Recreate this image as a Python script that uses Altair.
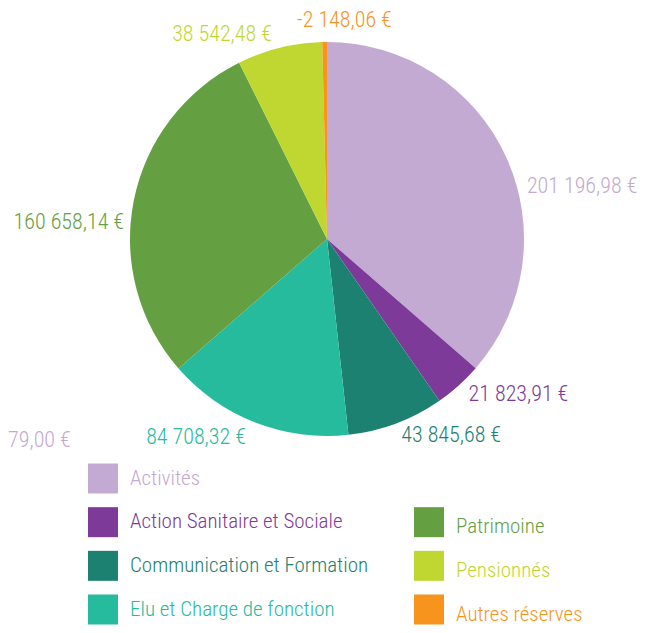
import altair as alt
import pandas as pd

categories = ["Activités", "Action Sanitaire et Sociale", "Communication et Formation",
              "Elu et Charge de fonction", "Patrimoine", "Pensionnés", "Autres réserves"]
values = [201196.98, 21823.91, 43845.68, 84708.32, 160658.14, 38542.48, -2148.06]
colors = ["#C3AAD2", "#7E3A98", "#1C8170", "#25BB9C", "#64A042", "#BFD730", "#F7941E"]
legend_col = [0, 0, 0, 0, 1, 1, 1]
legend_row = [0, 1, 2, 3, 1, 2, 3]
extra_label = "79,00 €"

FONT = "Roboto Condensed, Liberation Sans Narrow, DejaVu Sans Condensed, sans-serif"


def fr(v):
    return f"{v:,.2f}".replace(",", " ").replace(".", ",") + " €"


df = pd.DataFrame({
    "idx": list(range(len(categories))),
    "cat": categories,
    "val": values,
    "absval": [abs(v) for v in values],
    "label": [fr(v) for v in values],
})
leg = pd.DataFrame({"cat": categories, "col": legend_col, "row": legend_row})

color = alt.Color("cat:N", scale=alt.Scale(domain=categories, range=colors), legend=None)
CX, CY = 319, 231

pie = alt.Chart(df).mark_arc(outerRadius=197).encode(
    theta=alt.Theta("absval:Q", stack=True),
    color=color,
    order=alt.Order("idx:Q"),
    x=alt.value(CX),
    y=alt.value(CY),
)

lab_base = alt.Chart(df).transform_joinaggregate(
    total="sum(absval)"
).transform_window(
    cum="sum(absval)", sort=[alt.SortField("idx")], frame=[None, 0]
).transform_calculate(
    mid="(datum.cum - datum.absval / 2) / datum.total * 2 * PI"
)


def label_layer(cats, align, dx=0, dy=0):
    return lab_base.transform_filter(
        alt.FieldOneOfPredicate(field="cat", oneOf=cats)
    ).mark_text(radius=212, align=align, baseline="middle", font=FONT,
                fontSize=22, fontWeight=300, dx=dx, dy=dy).encode(
        theta=alt.Theta("mid:Q", scale=None, stack=False),
        text="label:N",
        color=color,
        x=alt.value(CX),
        y=alt.value(CY),
    )


labels = [
    label_layer(["Activités"], "left", dx=7, dy=35),
    label_layer(["Action Sanitaire et Sociale", "Communication et Formation"], "left", dy=-3),
    label_layer(["Elu et Charge de fonction", "Pensionnés"], "right", dx=-4, dy=1),
    label_layer(["Patrimoine"], "right", dx=5, dy=24),
    label_layer(["Autres réserves"], "center", dx=20, dy=-7),
]

extra = alt.Chart(pd.DataFrame({"t": [extra_label]})).mark_text(
    align="left", baseline="middle", font=FONT, fontSize=22, fontWeight=300, color=colors[0]
).encode(text="t:N", x=alt.value(0), y=alt.value(432))

xs = alt.X("col:Q", scale=alt.Scale(domain=[0, 1], range=[95, 421], nice=False, zero=False), axis=None)
ys = alt.Y("row:Q", scale=alt.Scale(domain=[0, 3], range=[470.5, 601.5], nice=False, zero=False), axis=None)


def legend_layers(cols, dy):
    b = alt.Chart(leg).transform_filter(alt.FieldOneOfPredicate(field="col", oneOf=cols))
    sq = b.mark_square(size=900, opacity=1, dy=dy).encode(x=xs, y=ys, color=color)
    tx = b.mark_text(align="left", baseline="middle", font=FONT, fontSize=21,
                     fontWeight=300, dx=27, dy=dy).encode(x=xs, y=ys, text="cat:N", color=color)
    return [sq, tx]


chart = alt.layer(
    pie, *labels, extra, *legend_layers([0], 0), *legend_layers([1], 5)
).properties(
    width=641, height=617,
    autosize=alt.AutoSizeParams(type="none"),
    padding=0,
).configure_view(stroke=None)

chart.save("out.html", embed_options={"renderer": "svg", "actions": False})
